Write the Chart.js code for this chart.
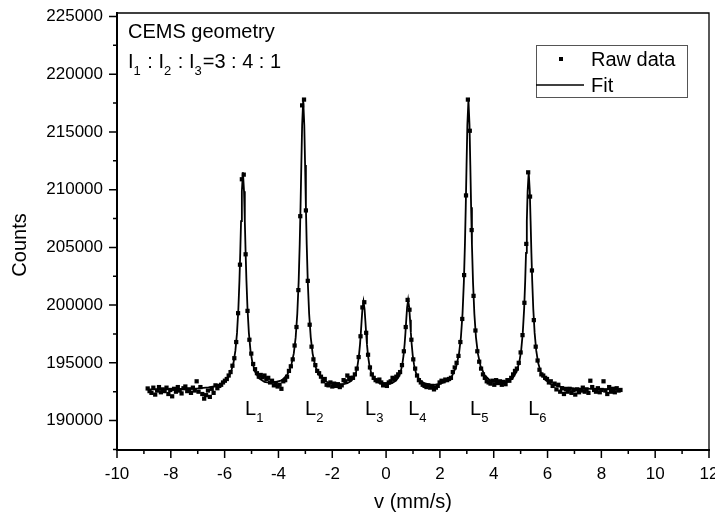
<!DOCTYPE html>
<html>
<head>
<meta charset="utf-8">
<script src="https://cdn.jsdelivr.net/npm/chart.js@4.4.1/dist/chart.umd.min.js"></script>
<style>
  html, body { margin: 0; padding: 0; background: #fff; }
</style>
</head>
<body>
<canvas id="myChart" width="715" height="519"></canvas>
<script>
// velocity channels (mm/s) of the measured spectrum
var rawV = [
  -8.86,-8.79,-8.72,-8.65,-8.58,-8.51,-8.44,-8.37,-8.30,-8.23,
  -8.16,-8.09,-8.02,-7.95,-7.88,-7.81,-7.74,-7.67,-7.60,-7.53,
  -7.46,-7.39,-7.32,-7.25,-7.18,-7.11,-7.04,-6.97,-6.90,-6.83,
  -6.76,-6.69,-6.62,-6.55,-6.48,-6.41,-6.34,-6.27,-6.20,-6.13,
  -6.06,-5.99,-5.92,-5.85,-5.78,-5.71,-5.64,-5.57,-5.50,-5.43,
  -5.36,-5.29,-5.22,-5.15,-5.08,-5.01,-4.94,-4.87,-4.80,-4.73,
  -4.66,-4.59,-4.52,-4.45,-4.38,-4.31,-4.24,-4.17,-4.10,-4.03,
  -3.96,-3.89,-3.82,-3.75,-3.68,-3.61,-3.54,-3.47,-3.40,-3.33,
  -3.26,-3.19,-3.12,-3.05,-2.98,-2.91,-2.84,-2.77,-2.70,-2.63,
  -2.56,-2.49,-2.42,-2.35,-2.28,-2.21,-2.14,-2.07,-2.00,-1.93,
  -1.86,-1.79,-1.72,-1.65,-1.58,-1.51,-1.44,-1.37,-1.30,-1.23,
  -1.16,-1.09,-1.02,-0.95,-0.88,-0.81,-0.74,-0.67,-0.60,-0.53,
  -0.46,-0.39,-0.32,-0.25,-0.18,-0.11,-0.04,0.03,0.10,0.17,
  0.24,0.31,0.38,0.45,0.52,0.59,0.66,0.73,0.80,0.87,
  0.94,1.01,1.08,1.15,1.22,1.29,1.36,1.43,1.50,1.57,
  1.64,1.71,1.78,1.85,1.92,1.99,2.06,2.13,2.20,2.27,
  2.34,2.41,2.48,2.55,2.62,2.69,2.76,2.83,2.90,2.97,
  3.04,3.11,3.18,3.25,3.32,3.39,3.46,3.53,3.60,3.67,
  3.74,3.81,3.88,3.95,4.02,4.09,4.16,4.23,4.30,4.37,
  4.44,4.51,4.58,4.65,4.72,4.79,4.86,4.93,5.00,5.07,
  5.14,5.21,5.28,5.35,5.42,5.49,5.56,5.63,5.70,5.77,
  5.84,5.91,5.98,6.05,6.12,6.19,6.26,6.33,6.40,6.47,
  6.54,6.61,6.68,6.75,6.82,6.89,6.96,7.03,7.10,7.17,
  7.24,7.31,7.38,7.45,7.52,7.59,7.66,7.73,7.80,7.87,
  7.94,8.01,8.08,8.15,8.22,8.29,8.36,8.43,8.50,8.57,
  8.64,8.71
];
var rawCounts = [
  192780,192550,192400,192850,192250,192600,192900,192450,192700,192550,
  192850,192300,192650,192100,192750,192500,192900,192600,192350,192800,
  192950,192550,192700,192400,192850,192600,193400,192500,192900,192300,
  191900,192200,192600,192050,192750,192400,193050,192800,193000,193100,
  193300,193450,193600,193900,194200,194750,195400,196800,199300,203500,
  210900,211300,204400,199500,197000,195800,194900,194450,194100,193800,
  193950,193750,193900,193600,193700,193300,193450,193050,193250,192950,
  193100,192750,193400,193500,193800,194300,194700,195300,196500,198100,
  201300,207700,217300,217800,208200,202100,198300,196400,195300,194800,
  194300,194100,193800,193400,193600,193100,193050,193300,192950,193200,
  193000,193150,192900,193050,193500,193400,193900,193600,193700,193700,
  194000,194500,195500,197300,199800,200250,197600,195700,194600,194000,
  193700,193500,193400,193550,193300,193050,193150,193000,193300,193400,
  193700,193600,193800,194000,194200,194800,196000,198100,200450,199600,
  197000,195300,194500,193900,193500,193300,193100,193000,192900,193050,
  192850,192950,192700,192850,193000,193300,193450,193400,193550,193500,
  193600,193700,194200,194600,195000,195600,196800,198800,202600,209500,
  217800,215100,206500,200800,197800,196000,195100,194500,194000,193700,
  193400,193300,193200,193450,193100,193500,193250,193400,193100,193350,
  193150,193500,193450,193700,194000,194300,194500,195000,195900,197400,
  200200,205300,211500,209400,203000,198700,196400,195200,194400,194000,
  193900,193700,193600,193300,193400,193000,193200,192700,193100,192500,
  192800,192300,192700,192500,192750,192400,192650,192250,192700,192450,
  192600,192850,192500,192700,192400,193450,192900,192650,192500,192800,
  192450,192650,193400,192600,192300,192900,192500,192750,192450,192800,
  192600,192650
];

// fitted sextet
var fitV = [
  -8.86,-8.0,-7.0,-6.6,-6.4,-6.12,-5.92,-5.77,-5.67,-5.60,-5.54,-5.49,-5.45,-5.42,-5.39,-5.36,
  -5.32,-5.28,-5.25,-5.22,-5.19,-5.15,-5.10,-5.04,-4.97,-4.87,-4.72,-4.52,-4.25,
  -3.88,-3.68,-3.53,-3.43,-3.36,-3.30,-3.25,-3.21,-3.18,-3.15,-3.12,-3.08,
  -3.04,-3.01,-2.98,-2.95,-2.91,-2.86,-2.80,-2.73,-2.63,-2.48,-2.28,-2.0,-1.8,
  -1.64,-1.44,-1.29,-1.19,-1.12,-1.06,-1.01,-0.97,-0.94,-0.91,-0.88,-0.84,
  -0.80,-0.77,-0.74,-0.71,-0.67,-0.62,-0.56,-0.49,-0.39,-0.24,-0.04,
  0.02,0.22,0.37,0.47,0.54,0.60,0.65,0.69,0.72,0.75,0.78,0.82,
  0.86,0.89,0.92,0.95,0.99,1.04,1.10,1.17,1.27,1.42,1.62,1.8,2.0,
  2.26,2.46,2.61,2.71,2.78,2.84,2.89,2.93,2.96,2.99,3.02,3.06,
  3.10,3.13,3.16,3.19,3.23,3.28,3.34,3.41,3.51,3.66,3.86,4.20,
  4.50,4.70,4.85,4.95,5.02,5.08,5.13,5.17,5.20,5.23,5.26,5.30,
  5.34,5.37,5.40,5.43,5.47,5.52,5.58,5.65,5.75,5.90,6.10,6.4,6.6,7.0,8.0,8.71
];
var fitCounts = [
  192700,192711,192795,192880,192962,193187,193555,194169,195003,196054,197594,199659,202117,204519,207277,209867,
  211500,209870,207280,204525,202130,199675,197615,196080,195048,194234,193655,193344,193245,
  193474,193930,194720,195815,197203,199247,201993,205265,208464,212138,215587,217761,
  215587,212138,208465,205266,201994,199249,197206,195798,194695,193894,193421,193167,193105,
  193114,193230,193450,193765,194172,194780,195596,196573,197527,198623,199653,200302,
  199655,198627,197531,196578,195603,194787,194182,193775,193460,193240,193124,
  193125,193246,193472,193794,194209,194826,195659,196653,197625,198744,199792,200452,
  199790,198740,197621,196648,195652,194819,194199,193784,193462,193236,193118,193100,193171,
  193422,193895,194696,195799,197192,199241,201990,205264,208463,212138,215587,217762,
  215588,212140,208466,205267,201995,199251,197210,195815,194720,193930,193474,193245,
  193344,193655,194234,195048,196084,197616,199676,202130,204528,207283,209870,211500,
  209867,207277,204519,202117,199659,197594,196054,195003,194169,193555,193187,192953,192875,192790,192715,192690
];

// axes
var xTicks = [-10, -8, -6, -4, -2, 0, 2, 4, 6, 8, 10, 12];
var xMinor = [-9, -7, -5, -3, -1, 1, 3, 5, 7, 9, 11];
var yTicks = [190000, 195000, 200000, 205000, 210000, 215000, 220000, 225000];
var yMinor = [187500, 192500, 197500, 202500, 207500, 212500, 217500, 222500];

// line labels under the peaks
var lineNames = ['1', '2', '3', '4', '5', '6'];
var lineLabelV = [-5.24, -3.01, -0.78, 0.82, 3.12, 5.28];
var lineLabelCount = 190480;

var FONT = "'Liberation Sans', Arial, Helvetica, sans-serif";

function subText(ctx, parts, x, y, big, small) {
  // parts: [text, isSub]
  parts.forEach(function (p) {
    ctx.font = (p[1] ? small : big) + 'px ' + FONT;
    ctx.fillText(p[0], x, p[1] ? y + 7 : y);
    x += ctx.measureText(p[0]).width + (p[1] ? 1 : 0);
  });
}

var framePlugin = {
  id: 'frame',
  afterDraw: function (chart) {
    var ctx = chart.ctx;
    var a = chart.chartArea;
    var x = chart.scales.x, y = chart.scales.y;
    ctx.save();
    ctx.strokeStyle = '#000';
    ctx.fillStyle = '#000';

    // top and right border
    ctx.lineWidth = 1.3;
    ctx.beginPath();
    ctx.moveTo(a.left, a.top);
    ctx.lineTo(a.right, a.top);
    ctx.lineTo(a.right, a.bottom);
    ctx.stroke();

    // tick marks, outside
    ctx.lineWidth = 1.5;
    ctx.beginPath();
    xTicks.forEach(function (v) { var p = x.getPixelForValue(v); ctx.moveTo(p, a.bottom); ctx.lineTo(p, a.bottom + 8); });
    xMinor.forEach(function (v) { var p = x.getPixelForValue(v); ctx.moveTo(p, a.bottom); ctx.lineTo(p, a.bottom + 4); });
    yTicks.forEach(function (v) { var p = y.getPixelForValue(v); ctx.moveTo(a.left, p); ctx.lineTo(a.left - 8, p); });
    yMinor.forEach(function (v) { var p = y.getPixelForValue(v); ctx.moveTo(a.left, p); ctx.lineTo(a.left - 4, p); });
    ctx.stroke();

    // axis titles
    ctx.font = '20px ' + FONT;
    ctx.textAlign = 'center';
    ctx.textBaseline = 'alphabetic';
    ctx.fillText('v (mm/s)', (a.left + a.right) / 2, 508);
    ctx.save();
    ctx.translate(20, 245);
    ctx.rotate(-Math.PI / 2);
    ctx.textBaseline = 'middle';
    ctx.fillText('Counts', 0, 0);
    ctx.restore();

    // text in the plot
    ctx.textAlign = 'left';
    ctx.textBaseline = 'alphabetic';
    ctx.font = '20px ' + FONT;
    ctx.fillText('CEMS geometry', a.left + 11, a.top + 25);
    subText(ctx, [['I', 0], ['1', 1], [' : I', 0], ['2', 1], [' : I', 0], ['3', 1], ['=3 : 4 : 1', 0]],
      a.left + 11, a.top + 55, 20, 13);

    var ly = y.getPixelForValue(lineLabelCount);
    lineNames.forEach(function (n, i) {
      subText(ctx, [['L', 0], [n, 1]], x.getPixelForValue(lineLabelV[i]), ly, 20, 13);
    });

    // legend
    var bx = a.right - 173, by = a.top + 32;
    ctx.strokeStyle = '#555';
    ctx.lineWidth = 1;
    ctx.strokeRect(bx + 0.5, by + 0.5, 151, 52);
    ctx.fillStyle = '#000';
    ctx.fillRect(bx + 23, by + 12, 4, 4);
    ctx.strokeStyle = '#000';
    ctx.lineWidth = 1.5;
    ctx.beginPath();
    ctx.moveTo(bx, by + 40);
    ctx.lineTo(bx + 48, by + 40);
    ctx.stroke();
    ctx.font = '20px ' + FONT;
    ctx.fillText(chart.data.datasets[0].label, bx + 55, by + 21);
    ctx.fillText(chart.data.datasets[1].label, bx + 55, by + 47);
    ctx.restore();
  }
};

var rawPoints = rawV.map(function (v, i) { return { x: v, y: rawCounts[i] }; });
var fitPoints = fitV.map(function (v, i) { return { x: v, y: fitCounts[i] }; });

var ctx = document.getElementById('myChart');
var myChart = new Chart(ctx, {
  type: 'scatter',
  data: {
    datasets: [{
      label: 'Raw data',
      data: rawPoints,
      pointStyle: 'rect',
      pointRadius: 3,
      backgroundColor: '#000',
      borderWidth: 0,
      showLine: false,
      order: 2
    }, {
      label: 'Fit',
      type: 'line',
      data: fitPoints,
      borderColor: '#000',
      borderWidth: 1.8,
      pointRadius: 0,
      fill: false,
      tension: 0,
      order: 1
    }]
  },
  options: {
    responsive: false,
    animation: false,
    devicePixelRatio: 1,
    layout: { padding: { top: 13, right: 6, left: 0, bottom: 0 } },
    plugins: { legend: { display: false }, tooltip: { enabled: false } },
    scales: {
      x: {
        type: 'linear',
        min: -10,
        max: 12,
        afterBuildTicks: function (s) { s.ticks = xTicks.map(function (v) { return { value: v }; }); },
        afterFit: function (s) { s.height = 69; s.paddingLeft = 0; s.paddingRight = 0; },
        grid: { display: false, drawTicks: false },
        border: { display: true, color: '#000', width: 2 },
        ticks: { color: '#000', font: { family: FONT, size: 17 }, padding: 14, maxRotation: 0, autoSkip: false }
      },
      y: {
        type: 'linear',
        min: 187450,
        max: 225300,
        afterBuildTicks: function (s) { s.ticks = yTicks.map(function (v) { return { value: v }; }); },
        afterFit: function (s) { s.width = 117; s.paddingTop = 0; s.paddingBottom = 0; },
        grid: { display: false, drawTicks: false },
        border: { display: true, color: '#000', width: 2 },
        ticks: { color: '#000', font: { family: FONT, size: 17 }, padding: 14, autoSkip: false,
          callback: function (v) { return String(v); } }
      }
    }
  },
  plugins: [framePlugin]
});
</script>
</body>
</html>
